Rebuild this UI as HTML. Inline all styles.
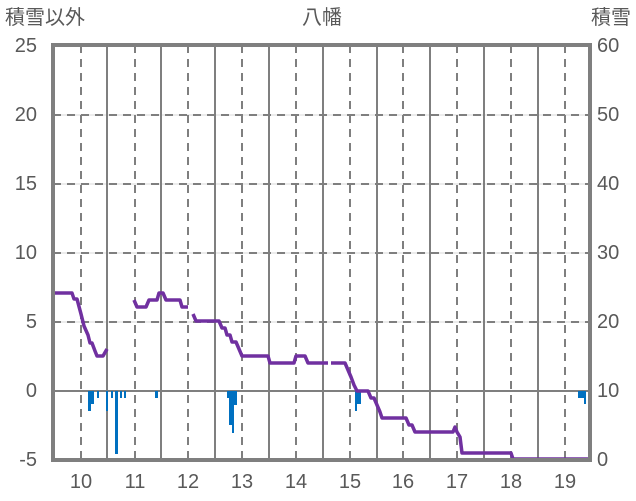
<!DOCTYPE html><html><head><meta charset="utf-8"><style>body{margin:0;background:#fff}svg{display:block}text{font-family:"Liberation Sans","Noto Sans CJK JP",sans-serif;fill:#595959}</style></head><body>
<svg width="636" height="501" xmlns="http://www.w3.org/2000/svg">
<rect width="636" height="501" fill="#fff"/>
<g stroke="#d9d9d9" stroke-width="1">
<line x1="53" y1="115" x2="590" y2="115"/><line x1="53" y1="184" x2="590" y2="184"/><line x1="53" y1="253" x2="590" y2="253"/><line x1="53" y1="322" x2="590" y2="322"/>
</g>
<g stroke="#7f7f7f" stroke-width="2" stroke-dasharray="8,6">
<line x1="53" y1="115" x2="590" y2="115"/><line x1="53" y1="184" x2="590" y2="184"/><line x1="53" y1="253" x2="590" y2="253"/><line x1="53" y1="322" x2="590" y2="322"/>
<line x1="81" y1="45" x2="81" y2="460"/><line x1="135" y1="45" x2="135" y2="460"/><line x1="188" y1="45" x2="188" y2="460"/><line x1="242" y1="45" x2="242" y2="460"/><line x1="296" y1="45" x2="296" y2="460"/><line x1="350" y1="45" x2="350" y2="460"/><line x1="403" y1="45" x2="403" y2="460"/><line x1="457" y1="45" x2="457" y2="460"/><line x1="511" y1="45" x2="511" y2="460"/><line x1="565" y1="45" x2="565" y2="460"/>
</g>
<g stroke="#7f7f7f" stroke-width="2">
<line x1="107" y1="45" x2="107" y2="460"/><line x1="161" y1="45" x2="161" y2="460"/><line x1="215" y1="45" x2="215" y2="460"/><line x1="269" y1="45" x2="269" y2="460"/><line x1="323" y1="45" x2="323" y2="460"/><line x1="377" y1="45" x2="377" y2="460"/><line x1="430" y1="45" x2="430" y2="460"/><line x1="484" y1="45" x2="484" y2="460"/><line x1="538" y1="45" x2="538" y2="460"/>
<line x1="53" y1="391" x2="590" y2="391"/>
</g>
<g fill="#0070c0">
<rect x="88" y="391" width="3" height="20"/><rect x="91" y="391" width="3" height="13"/><rect x="97" y="391" width="2" height="7"/><rect x="106" y="391" width="2" height="20"/><rect x="111" y="391" width="2" height="7"/><rect x="115" y="391" width="3" height="63"/><rect x="120" y="391" width="2" height="7"/><rect x="124" y="391" width="2" height="7"/><rect x="155" y="391" width="3" height="7"/><rect x="227" y="391" width="2" height="7"/><rect x="229" y="391" width="3" height="34"/><rect x="232" y="391" width="2" height="42"/><rect x="234" y="391" width="3" height="14"/><rect x="355" y="391" width="2" height="20"/><rect x="357" y="391" width="4" height="13"/><rect x="578" y="391" width="6" height="7"/><rect x="584" y="391" width="2" height="13"/>
</g>
<g fill="none" stroke="#7030a0" stroke-width="3.5" stroke-linejoin="round">
<polyline points="53,293 72,293 74,299 77,299 81,314 84,326 88,335 90,343 92,343 95,351 97,356 103,356 107,349"/>
<polyline points="134,300 137,307 146,307 149,300 157,300 159,293 163,293 166,300 180,300 182,307 188,307"/>
<polyline points="193,314 196,321 219,321 222,328 225,328 227,335 230,335 232,342 236,342 239,349 242,356 268,356 270,363 294,363 296,356 305,356 308,363 328,363"/>
<polyline points="331,363 345,363 348,370 351,377 354,385 357,391 368,391 371,398 374,398 377,405 380,412 382,418 406,418 409,425 412,425 415,432 453,432 455,427 457,432 460,437 462,453 511,453 513,459 590,459"/>
</g>
<rect x="53" y="45" width="537" height="415" fill="none" stroke="#7f7f7f" stroke-width="4"/>
<g font-size="20">
<text x="5" y="24">積雪以外</text>
<text x="322" y="24" text-anchor="middle">八幡</text>
<text x="631" y="24" text-anchor="end">積雪</text>
<g text-anchor="end"><text x="37" y="52">25</text><text x="37" y="121">20</text><text x="37" y="190">15</text><text x="37" y="259">10</text><text x="37" y="328">5</text><text x="37" y="397">0</text><text x="37" y="466">-5</text></g>
<g text-anchor="start"><text x="597" y="52">60</text><text x="597" y="121">50</text><text x="597" y="190">40</text><text x="597" y="259">30</text><text x="597" y="328">20</text><text x="597" y="397">10</text><text x="597" y="466">0</text></g>
<g text-anchor="middle"><text x="81" y="488">10</text><text x="135" y="488">11</text><text x="188" y="488">12</text><text x="242" y="488">13</text><text x="296" y="488">14</text><text x="350" y="488">15</text><text x="403" y="488">16</text><text x="457" y="488">17</text><text x="511" y="488">18</text><text x="565" y="488">19</text></g>
</g>
</svg></body></html>
